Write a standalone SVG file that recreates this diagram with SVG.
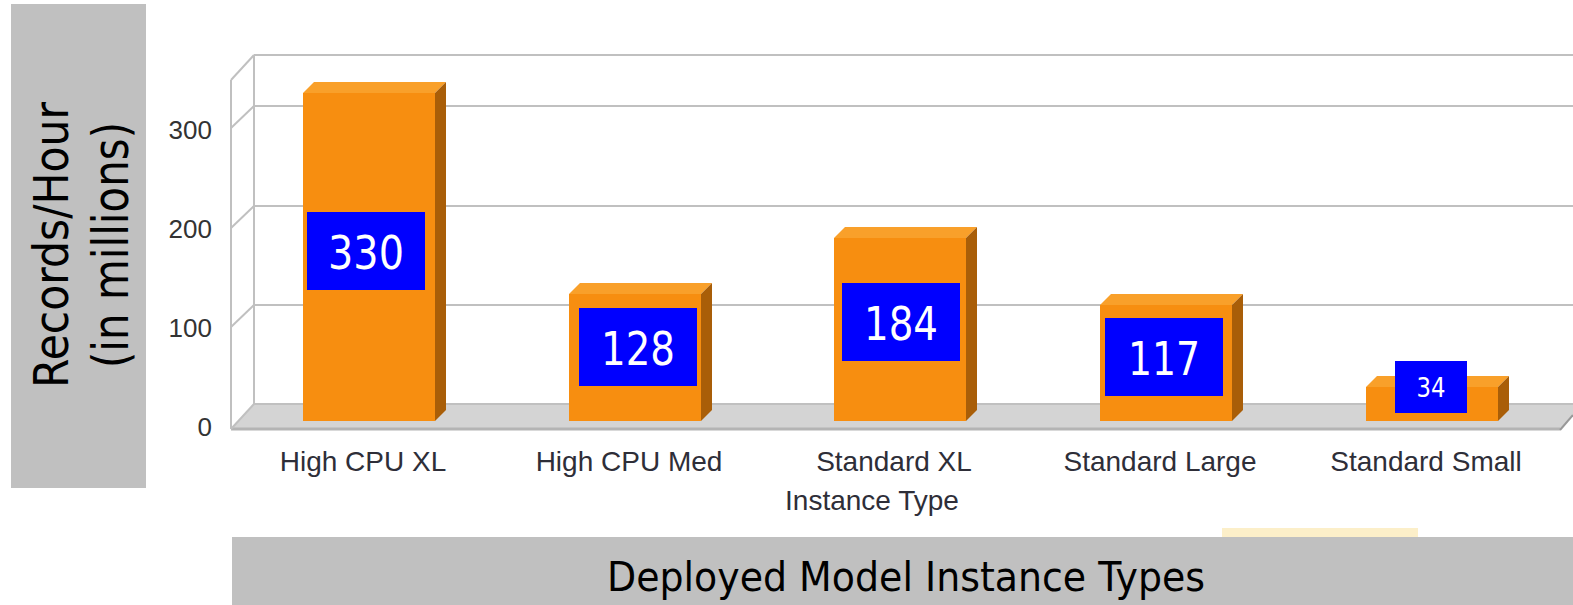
<svg xmlns="http://www.w3.org/2000/svg" width="1573" height="605" viewBox="0 0 1573 605">
<style>
.panel{fill:#c0c0c0}
.grid{stroke:#c0c0c0;stroke-width:2;fill:none}
.front{fill:#f78e10}
.top{fill:#f9a02a}
.side{fill:#a95e08}
.box{fill:#0000ff}
.val{font-family:"DejaVu Sans",Verdana,sans-serif;fill:#ffffff;text-anchor:middle}
.tick{font-family:"Liberation Sans",Arial,sans-serif;font-size:26px;fill:#333333;text-anchor:end}
.cat{font-family:"Liberation Sans",Arial,sans-serif;font-size:28px;fill:#2e2e38;text-anchor:middle}
.big{font-family:"DejaVu Sans",Tahoma,sans-serif;fill:#000000;text-anchor:middle}
</style>
<rect width="1573" height="605" fill="#ffffff"/>
<g id="y-title">
<rect class="panel" x="11" y="4" width="135" height="484"/>
<text class="big" font-size="48" textLength="286" lengthAdjust="spacingAndGlyphs" transform="translate(68,245) rotate(-90)">Records/Hour</text>
<text class="big" font-size="50" textLength="246" lengthAdjust="spacingAndGlyphs" transform="translate(128,245) rotate(-90)">(in millions)</text>
</g>
<g id="x-title">
<rect x="1222" y="528" width="196" height="10" fill="#fcefc9"/>
<rect class="panel" x="232" y="537" width="1341" height="68"/>
<text class="big" font-size="40" x="906" y="591" textLength="598" lengthAdjust="spacingAndGlyphs">Deployed Model Instance Types</text>
</g>
<g id="axes">
<polygon points="231,429 254,404 1573,404 1573,414 1560,430" fill="#d4d4d4"/>
<line class="grid" x1="231" y1="429" x2="1560" y2="429" style="stroke:#b4b4b4;stroke-width:3"/>
<line class="grid" x1="1560" y1="430" x2="1573" y2="415" style="stroke:#999"/>
<line class="grid" x1="254" y1="55" x2="1573" y2="55"/>
<line class="grid" x1="254" y1="106" x2="1573" y2="106"/>
<line class="grid" x1="254" y1="206" x2="1573" y2="206"/>
<line class="grid" x1="254" y1="305" x2="1573" y2="305"/>
<line class="grid" x1="254" y1="404" x2="1573" y2="404"/>
<line class="grid" x1="254" y1="55" x2="254" y2="404"/>
<line class="grid" x1="231" y1="80" x2="231" y2="429"/>
<line class="grid" x1="231" y1="80" x2="254" y2="55"/>
<line class="grid" x1="231" y1="128" x2="254" y2="106"/>
<line class="grid" x1="231" y1="228" x2="254" y2="206"/>
<line class="grid" x1="231" y1="327" x2="254" y2="305"/>
<line class="grid" x1="231" y1="429" x2="254" y2="404"/>
<text class="tick" x="212" y="139">300</text>
<text class="tick" x="212" y="238">200</text>
<text class="tick" x="212" y="337">100</text>
<text class="tick" x="212" y="436">0</text>
<text class="cat" x="363" y="471">High CPU XL</text>
<text class="cat" x="629" y="471">High CPU Med</text>
<text class="cat" x="894" y="471">Standard XL</text>
<text class="cat" x="1160" y="471">Standard Large</text>
<text class="cat" x="1426" y="471">Standard Small</text>
<text class="cat" x="872" y="510">Instance Type</text>
</g>
<g id="bar-high-cpu-xl">
<rect class="front" x="303" y="93" width="132" height="328"/>
<polygon class="top" points="303,93 314,82 446,82 435,93"/>
<polygon class="side" points="435,93 446,82 446,410 435,421"/>
<rect class="box" x="307" y="212" width="118" height="78"/>
<text class="val" x="366" y="269" font-size="46" textLength="76" lengthAdjust="spacingAndGlyphs">330</text>
</g>
<g id="bar-high-cpu-med">
<rect class="front" x="569" y="294" width="132" height="127"/>
<polygon class="top" points="569,294 580,283 712,283 701,294"/>
<polygon class="side" points="701,294 712,283 712,410 701,421"/>
<rect class="box" x="579" y="308" width="118" height="78"/>
<text class="val" x="638" y="365" font-size="46" textLength="74" lengthAdjust="spacingAndGlyphs">128</text>
</g>
<g id="bar-standard-xl">
<rect class="front" x="834" y="238" width="132" height="183"/>
<polygon class="top" points="834,238 845,227 977,227 966,238"/>
<polygon class="side" points="966,238 977,227 977,410 966,421"/>
<rect class="box" x="842" y="283" width="118" height="78"/>
<text class="val" x="901" y="340" font-size="46" textLength="74" lengthAdjust="spacingAndGlyphs">184</text>
</g>
<g id="bar-standard-large">
<rect class="front" x="1100" y="305" width="132" height="116"/>
<polygon class="top" points="1100,305 1111,294 1243,294 1232,305"/>
<polygon class="side" points="1232,305 1243,294 1243,410 1232,421"/>
<rect class="box" x="1105" y="318" width="118" height="78"/>
<text class="val" x="1164" y="375" font-size="46" textLength="72" lengthAdjust="spacingAndGlyphs">117</text>
</g>
<g id="bar-standard-small">
<rect class="front" x="1366" y="387" width="132" height="34"/>
<polygon class="top" points="1366,387 1377,376 1509,376 1498,387"/>
<polygon class="side" points="1498,387 1509,376 1509,410 1498,421"/>
<rect class="box" x="1395" y="361" width="72" height="52"/>
<text class="val" x="1431" y="397" font-size="27" textLength="29" lengthAdjust="spacingAndGlyphs">34</text>
</g>
</svg>
